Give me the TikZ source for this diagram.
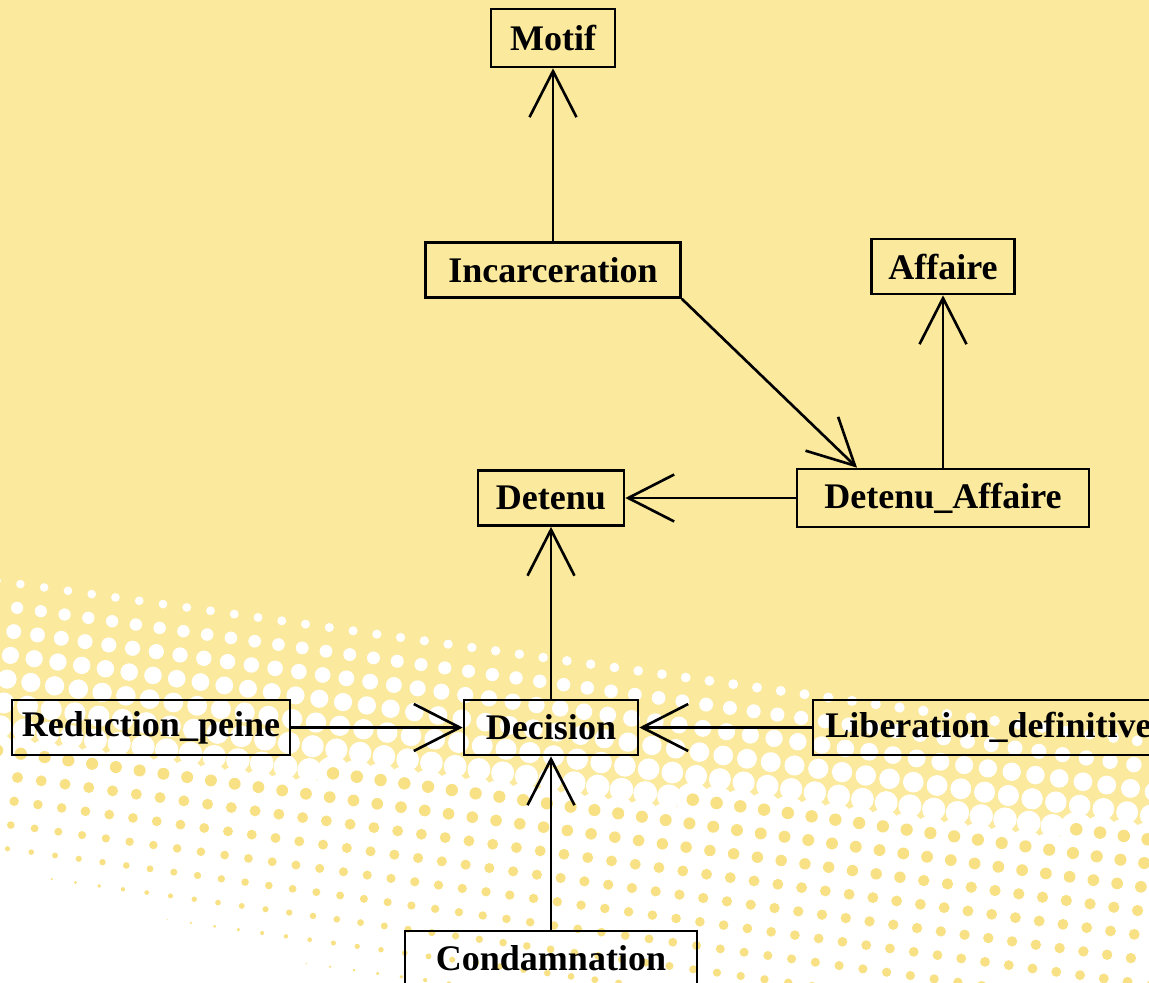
\documentclass[tikz,border=0pt]{standalone}
\usepackage{fontspec}
\setmainfont{Liberation Serif}
\usetikzlibrary{arrows.meta}
\definecolor{bgyellow}{RGB}{251,233,157}
\definecolor{dotyellow}{RGB}{248,225,132}

\begin{document}
\begin{tikzpicture}[x=0.02cm, y=-0.02cm,
  entity/.style={draw, line width=1.5pt, inner sep=0pt, minimum height=1.1cm,
                 font=\fontsize{20.5}{24}\selectfont\bfseries},
  arr/.style={-{Straight Barb[length=0.92cm, width=0.94cm]}, line width=1.5pt}
]
\useasboundingbox (0,0) rectangle (1149,983);
\clip (0,0) rectangle (1149,983);
\fill[bgyellow] (0,0) rectangle (1149,983);
% halftone band at the bottom, rows tilted by 8 degrees
\foreach \i in {-3,...,50}{
  \foreach \j in {1,...,19}{
    \pgfmathsetmacro\px{24*(\i*0.990-\j*0.139)}
    \pgfmathsetmacro\py{557+24*(\i*0.139+\j*0.990)}
    \pgfmathsetmacro\d{24.23*\j}
    \pgfmathsetmacro\dd{190-0.065*\px}
    \pgfmathsetmacro\cov{\d<\dd ? 0.785*\d/\dd : min(1,0.785+0.215*(\d-\dd)/(120+0.25*\px))}
    \ifdim\cov pt<0.785pt
      \pgfmathsetmacro\rr{24*sqrt(\cov/pi)}
      \fill[white] (\px,\py) circle[radius=\rr];
    \else
      \pgfmathsetmacro\rr{24*sqrt((1-\cov)/pi)}
      \fill[white] (\px,\py) circle[radius=17.2];
      \fill[dotyellow] (\px,\py) circle[radius=\rr];
    \fi
  }
}

\node[entity, minimum width=2.48cm, minimum height=1.16cm] (motif) at (553,38) {Motif};
\node[entity, minimum width=5.1cm] (incarc) at (553,270) {Incarceration};
\node[entity, minimum width=2.86cm] (affaire) at (943,266.5) {Affaire};
\node[entity, minimum width=2.92cm] (detenu) at (551,498) {Detenu};
\node[entity, minimum width=5.84cm, minimum height=1.16cm] (detaff) at (943,498) {Detenu\_Affaire};
\node[entity, minimum width=5.56cm] (reduc) at (151,727.5) {Reduction\_peine};
\node[entity, minimum width=3.48cm] (decision) at (551,727.5) {Decision};
\node[entity, minimum width=7.02cm] (liber) at (988.5,727.5) {Liberation\_definitive};
\node[entity, minimum width=5.84cm] (condam) at (551,958.5) {Condamnation};

\draw[arr] (incarc) -- (motif);
\draw[arr] (incarc.south east) -- ([xshift=-1.72cm]detaff.north);
\draw[arr] (detaff) -- (affaire);
\draw[arr] (detaff) -- (detenu);
\draw[arr] (decision) -- (detenu);
\draw[arr] (reduc) -- (decision);
\draw[arr] (liber) -- (decision);
\draw[arr] (condam) -- (decision);
\end{tikzpicture}
\end{document}
